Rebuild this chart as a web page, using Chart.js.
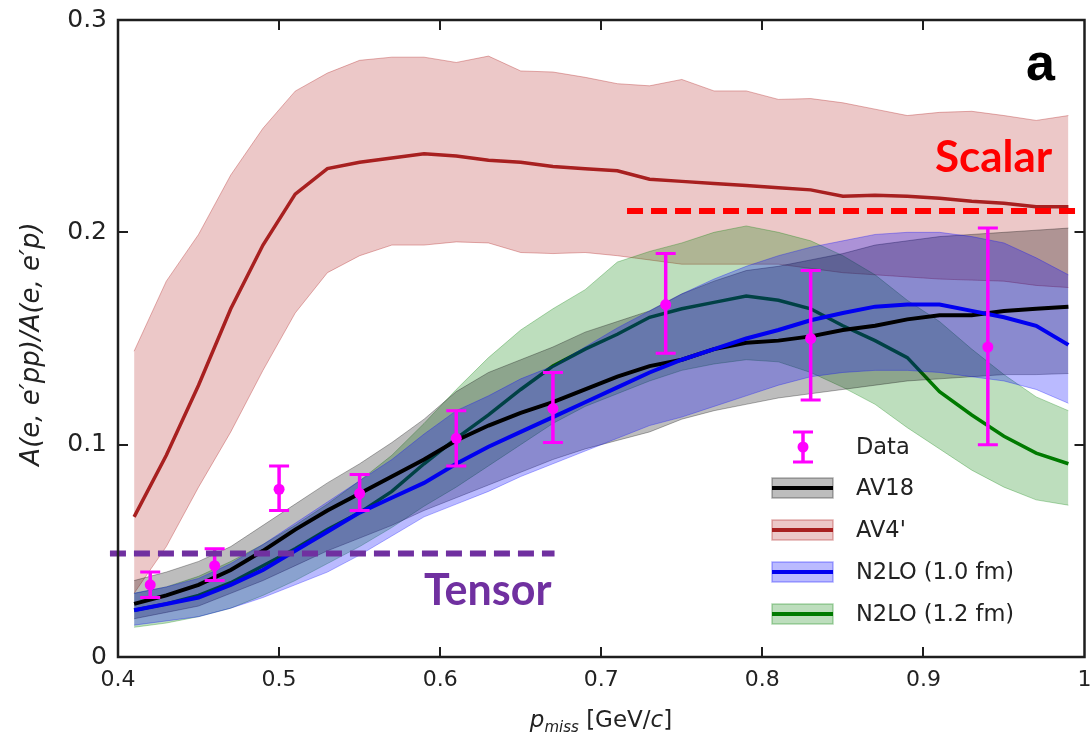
<!DOCTYPE html>
<html><head><meta charset="utf-8">
<script src="https://cdn.jsdelivr.net/npm/chart.js@4.4.1/dist/chart.umd.min.js"></script>
<style>html,body{margin:0;padding:0;background:#fff;}canvas{display:block;}</style>
</head><body>
<canvas id="c" width="1090" height="735"></canvas>
<script>
// ---- data ----
const pGrid = [0.41,0.43,0.45,0.47,0.49,0.51,0.53,0.55,0.57,0.59,0.61,0.63,0.65,0.67,0.69,0.71,0.73,0.75,0.77,0.79,0.81,0.83,0.85,0.87,0.89,0.91,0.93,0.95,0.97,0.99];

const av4 = [0.066,0.095,0.128,0.164,0.194,0.218,0.230,0.233,0.235,0.237,0.236,0.234,0.233,0.231,0.230,0.229,0.225,0.224,0.223,0.222,0.221,0.220,0.217,0.2175,0.217,0.216,0.2146,0.2137,0.212,0.212];
const av4Hi = [0.144,0.177,0.199,0.227,0.249,0.2665,0.275,0.281,0.2825,0.2825,0.280,0.283,0.276,0.2755,0.273,0.270,0.269,0.272,0.2666,0.2666,0.2626,0.263,0.261,0.258,0.255,0.2565,0.257,0.255,0.2527,0.255];
const av4Lo = [0.030,0.052,0.080,0.106,0.135,0.162,0.181,0.189,0.194,0.194,0.1955,0.195,0.1905,0.190,0.1905,0.189,0.187,0.185,0.185,0.185,0.185,0.183,0.181,0.180,0.179,0.178,0.1775,0.177,0.175,0.174];

const av18 = [0.025,0.029,0.034,0.041,0.050,0.060,0.069,0.077,0.085,0.093,0.102,0.109,0.115,0.120,0.126,0.132,0.137,0.140,0.145,0.148,0.149,0.151,0.154,0.156,0.159,0.161,0.161,0.163,0.164,0.165];
const av18Hi = [0.036,0.040,0.045,0.052,0.062,0.072,0.082,0.091,0.101,0.112,0.125,0.134,0.140,0.146,0.153,0.158,0.163,0.171,0.177,0.182,0.184,0.187,0.190,0.194,0.196,0.198,0.199,0.200,0.201,0.202];
const av18Lo = [0.018,0.021,0.024,0.030,0.036,0.043,0.050,0.056,0.062,0.069,0.075,0.081,0.087,0.093,0.098,0.102,0.106,0.112,0.116,0.119,0.122,0.124,0.126,0.128,0.130,0.131,0.132,0.133,0.133,0.1335];

const n2lo10 = [0.022,0.025,0.028,0.034,0.041,0.050,0.059,0.068,0.075,0.082,0.091,0.099,0.106,0.113,0.120,0.127,0.134,0.140,0.145,0.150,0.154,0.1586,0.162,0.165,0.166,0.166,0.163,0.160,0.156,0.147];
const n2lo10Hi = [0.030,0.033,0.037,0.044,0.053,0.063,0.073,0.083,0.093,0.105,0.116,0.123,0.131,0.137,0.146,0.155,0.163,0.171,0.178,0.184,0.189,0.193,0.196,0.199,0.200,0.200,0.198,0.195,0.188,0.180];
const n2lo10Lo = [0.015,0.017,0.019,0.023,0.028,0.034,0.040,0.048,0.057,0.066,0.072,0.078,0.085,0.091,0.097,0.103,0.109,0.113,0.118,0.123,0.128,0.132,0.134,0.135,0.135,0.134,0.132,0.130,0.126,0.1195];

const n2lo12 = [0.022,0.025,0.029,0.035,0.043,0.051,0.060,0.068,0.078,0.091,0.103,0.114,0.126,0.137,0.145,0.152,0.160,0.164,0.167,0.170,0.168,0.164,0.156,0.149,0.141,0.125,0.114,0.104,0.096,0.091];
const n2lo12Hi = [0.030,0.033,0.038,0.045,0.053,0.062,0.072,0.083,0.095,0.110,0.126,0.141,0.154,0.164,0.173,0.186,0.191,0.195,0.200,0.203,0.200,0.196,0.189,0.180,0.168,0.158,0.145,0.133,0.1225,0.116];
const n2lo12Lo = [0.014,0.016,0.019,0.023,0.029,0.036,0.044,0.052,0.061,0.071,0.080,0.090,0.100,0.110,0.118,0.124,0.130,0.135,0.138,0.140,0.139,0.134,0.127,0.119,0.108,0.098,0.088,0.080,0.074,0.0715];

const dataX  = [0.42,0.46,0.50,0.55,0.61,0.67,0.74,0.83,0.94];
const dataY  = [0.034,0.043,0.079,0.077,0.103,0.117,0.166,0.150,0.146];
const dataHi = [0.040,0.051,0.090,0.086,0.116,0.134,0.190,0.182,0.202];
const dataLo = [0.028,0.036,0.069,0.069,0.090,0.101,0.143,0.121,0.100];

const tensorX = [0.395,0.671];
const tensorY = 0.0488;
const scalarX = [0.716,0.995];
const scalarY = 0.210;

const xTicks = [0.4,0.5,0.6,0.7,0.8,0.9,1.0];
const yTicks = [0,0.1,0.2,0.3];

const legendLabels = ['Data','AV18',"AV4'",'N2LO (1.0 fm)','N2LO (1.2 fm)'];

// ---- build datasets ----
const pts = arr => pGrid.map((x,i)=>({x, y:arr[i]}));
const datasets = [];
function addBand(hi, lo, edge, fillCol, order){
  const i = datasets.length;
  datasets.push({data:pts(hi), borderColor:edge, borderWidth:1, pointRadius:0, fill:i+1, backgroundColor:fillCol, order});
  datasets.push({data:pts(lo), borderColor:edge, borderWidth:1, pointRadius:0, fill:false, order});
}
function addLine(arr, col, w, order){
  datasets.push({data:pts(arr), borderColor:col, borderWidth:w, pointRadius:0, fill:false, order});
}
const C = {
  red:'#a82020', redBand:'rgba(178,34,34,0.25)', redEdge:'rgba(178,34,34,0.35)',
  black:'#000000', grayBand:'rgba(0,0,0,0.26)', grayEdge:'rgba(0,0,0,0.3)',
  blue:'#0000f0', blueBand:'rgba(0,0,255,0.27)', blueEdge:'rgba(0,0,255,0.3)',
  green:'#007a00', greenBand:'rgba(0,128,0,0.26)', greenEdge:'rgba(0,128,0,0.3)',
  magenta:'#ff00ff', purple:'#7030a0', scalar:'#ff0000'
};
addBand(av4Hi, av4Lo, C.redEdge, C.redBand, 9);
addLine(av4, C.red, 3.5, 8);
addBand(n2lo12Hi, n2lo12Lo, C.greenEdge, C.greenBand, 7);
addLine(n2lo12, C.green, 3.5, 6);
addBand(av18Hi, av18Lo, C.grayEdge, C.grayBand, 5);
addBand(n2lo10Hi, n2lo10Lo, C.blueEdge, C.blueBand, 4);
addLine(av18, C.black, 4, 3);
addLine(n2lo10, C.blue, 4, 2);
datasets.push({data:dataX.map((x,i)=>({x,y:dataY[i]})), showLine:false, pointRadius:5.5, pointHoverRadius:5.5,
  pointBackgroundColor:C.magenta, pointBorderColor:C.magenta, pointBorderWidth:0, errHi:dataHi, errLo:dataLo, order:1});
datasets.push({data:tensorX.map(x=>({x,y:tensorY})), borderColor:C.purple, borderWidth:6, borderDash:[16,8], pointRadius:0, fill:false, clip:false, order:0});
datasets.push({data:scalarX.map(x=>({x,y:scalarY})), borderColor:C.scalar, borderWidth:6, borderDash:[16,8], pointRadius:0, fill:false, clip:false, order:0});

const fmt = v => String(Math.round(v*10)/10);

const errPlugin = {
  id:'err',
  afterDatasetDraw(chart, args){
    const d = chart.data.datasets[args.index];
    if(!d.errHi) return;
    const xs = chart.scales.x, ys = chart.scales.y, ctx = chart.ctx;
    ctx.save();
    ctx.strokeStyle = C.magenta; ctx.lineCap='butt';
    d.data.forEach((p,i)=>{
      const px = xs.getPixelForValue(p.x);
      const top = ys.getPixelForValue(d.errHi[i]), bot = ys.getPixelForValue(d.errLo[i]);
      ctx.lineWidth = 3.5;
      ctx.beginPath(); ctx.moveTo(px,top); ctx.lineTo(px,bot); ctx.stroke();
      ctx.lineWidth = 3;
      ctx.beginPath(); ctx.moveTo(px-10,top); ctx.lineTo(px+10,top); ctx.moveTo(px-10,bot); ctx.lineTo(px+10,bot); ctx.stroke();
    });
    ctx.restore();
  }
};

function drawMixed(ctx, parts, x, y, align){
  let total = 0;
  parts.forEach(p=>{ ctx.font = p.font; total += ctx.measureText(p.t).width; });
  let cx = align==='center' ? x - total/2 : x;
  parts.forEach(p=>{ ctx.font = p.font; ctx.fillText(p.t, cx, y + (p.dy||0)); cx += ctx.measureText(p.t).width; });
}

const decoPlugin = {
  id:'deco',
  afterDraw(chart){
    const ctx = chart.ctx, a = chart.chartArea, xs = chart.scales.x, ys = chart.scales.y;
    ctx.save();
    // frame
    ctx.strokeStyle = '#1e1e1e'; ctx.lineWidth = 2.5;
    ctx.strokeRect(a.left, a.top, a.right-a.left, a.bottom-a.top);
    ctx.lineWidth = 2;
    const tl = 10;
    xTicks.slice(1,-1).forEach(v=>{
      const px = Math.round(xs.getPixelForValue(v));
      ctx.beginPath(); ctx.moveTo(px,a.bottom); ctx.lineTo(px,a.bottom-tl); ctx.moveTo(px,a.top); ctx.lineTo(px,a.top+tl); ctx.stroke();
    });
    yTicks.slice(1,-1).forEach(v=>{
      const py = Math.round(ys.getPixelForValue(v));
      ctx.beginPath(); ctx.moveTo(a.left,py); ctx.lineTo(a.left+tl,py); ctx.moveTo(a.right,py); ctx.lineTo(a.right-tl,py); ctx.stroke();
    });

    // axis titles
    ctx.fillStyle = '#222'; ctx.textBaseline = 'alphabetic';
    const F = 'DejaVu Sans';
    drawMixed(ctx, [
      {t:'p', font:`italic 23px "${F}"`},
      {t:'miss', font:`italic 15px "${F}"`, dy:5},
      {t:' [GeV/', font:`23px "${F}"`},
      {t:'c', font:`italic 23px "${F}"`},
      {t:']', font:`23px "${F}"`}
    ], 601, 727, 'center');
    ctx.save();
    ctx.translate(39, 344); ctx.rotate(-Math.PI/2);
    const yf = `italic 26px "${F}"`;
    drawMixed(ctx, [
      {t:'A', font:yf}, {t:'(e, e\u2032', font:yf}, {t:'pp', font:yf}, {t:')/', font:yf},
      {t:'A', font:yf}, {t:'(e, e\u2032', font:yf}, {t:'p', font:yf}, {t:')', font:yf}
    ], 0, 0, 'center');
    ctx.restore();

    // annotations
    ctx.fillStyle = '#000'; ctx.font = 'bold 52px "Liberation Sans"';
    ctx.fillText('a', 1026, 80);
    ctx.fillStyle = C.scalar; ctx.font = 'bold 44px Lato';
    ctx.fillText('Scalar', 935, 172);
    ctx.fillStyle = C.purple; ctx.font = 'bold 43px Lato';
    ctx.fillText('Tensor', 424, 605);

    // legend
    const lx0 = 772, lx1 = 833, tx = 856;
    const rowsY = [447, 488, 530, 572, 614];
    ctx.font = `22.5px "${F}"`; ctx.textBaseline = 'middle'; ctx.fillStyle = '#222';
    legendLabels.forEach((t,i)=>{ ctx.fillText(t, tx, rowsY[i]+1); });
    // data marker
    const mx = 803, my = rowsY[0];
    ctx.strokeStyle = C.magenta; ctx.fillStyle = C.magenta;
    ctx.lineWidth = 3.5; ctx.beginPath(); ctx.moveTo(mx,my-15); ctx.lineTo(mx,my+15); ctx.stroke();
    ctx.lineWidth = 3; ctx.beginPath(); ctx.moveTo(mx-10,my-15); ctx.lineTo(mx+10,my-15); ctx.moveTo(mx-10,my+15); ctx.lineTo(mx+10,my+15); ctx.stroke();
    ctx.beginPath(); ctx.arc(mx,my,5.5,0,Math.PI*2); ctx.fill();
    const patches = [[C.grayBand,C.grayEdge,C.black],[C.redBand,C.redEdge,C.red],[C.blueBand,C.blueEdge,C.blue],[C.greenBand,C.greenEdge,C.green]];
    patches.forEach((p,k)=>{
      const y = rowsY[k+1];
      ctx.fillStyle = p[0]; ctx.fillRect(lx0, y-10, lx1-lx0, 20);
      ctx.strokeStyle = p[1]; ctx.lineWidth = 1.5; ctx.strokeRect(lx0, y-10, lx1-lx0, 20);
      ctx.strokeStyle = p[2]; ctx.lineWidth = 4; ctx.beginPath(); ctx.moveTo(lx0,y); ctx.lineTo(lx1,y); ctx.stroke();
    });
    ctx.restore();
  }
};

new Chart(document.getElementById('c'), {
  type:'line',
  data:{datasets},
  options:{
    responsive:false, animation:false, devicePixelRatio:1,
    layout:{padding:{left:0, top:20, right:5, bottom:0}},
    elements:{line:{tension:0}},
    plugins:{legend:{display:false}, tooltip:{enabled:false}},
    scales:{
      x:{type:'linear', min:0.4, max:1.0,
        grid:{display:false, drawTicks:false}, border:{display:false},
        ticks:{font:{family:'DejaVu Sans', size:22}, color:'#222', padding:10, maxRotation:0, autoSkip:false, callback:v=>fmt(v)},
        afterBuildTicks:s=>{ s.ticks = xTicks.map(v=>({value:v})); },
        afterFit:s=>{ s.height = 78; s.paddingLeft = 0; s.paddingRight = 0; }
      },
      y:{type:'linear', min:0, max:0.3,
        grid:{display:false, drawTicks:false}, border:{display:false},
        ticks:{font:{family:'DejaVu Sans', size:25}, color:'#222', padding:11, callback:v=>fmt(v)},
        afterBuildTicks:s=>{ s.ticks = yTicks.map(v=>({value:v})); },
        afterFit:s=>{ s.width = 118; s.paddingTop = 0; s.paddingBottom = 0; }
      }
    }
  },
  plugins:[errPlugin, decoPlugin]
});
</script>
</body></html>
